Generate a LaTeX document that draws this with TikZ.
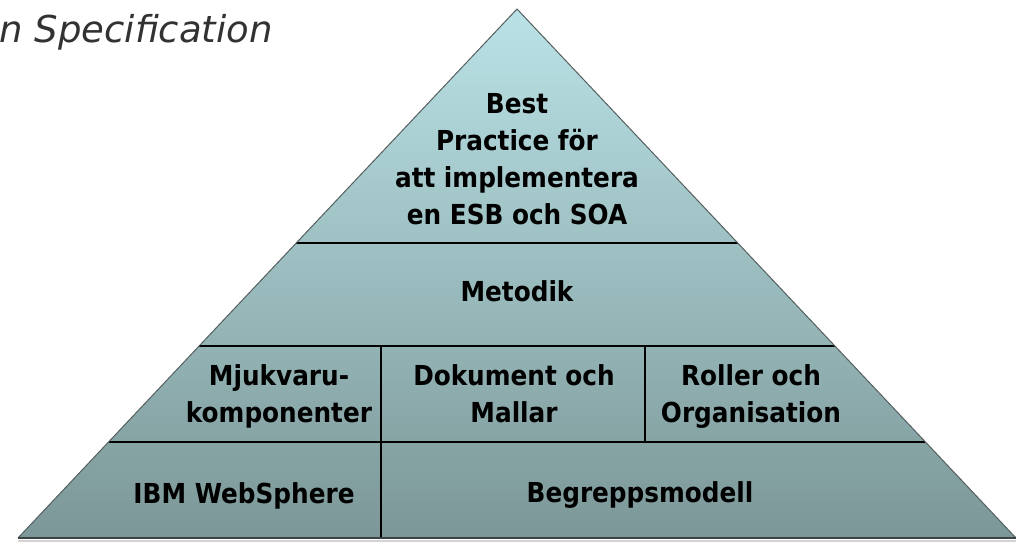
\documentclass[tikz,border=0pt]{standalone}
\usepackage{fontspec}
\setmainfont{DejaVu Sans}
\newfontfamily\pyrfont{DejaVu Sans Condensed}
\usetikzlibrary{calc}
\definecolor{topc}{RGB}{186,226,230}
\definecolor{botc}{RGB}{124,151,151}
\definecolor{edgec}{RGB}{85,95,95}
\definecolor{titlec}{RGB}{50,50,50}
\begin{document}
\begin{tikzpicture}[x=1pt,y=-1pt,
  lbl/.style={font=\pyrfont\bfseries\fontsize{27.5}{37}\selectfont, align=center, inner sep=0pt, anchor=base},
  div/.style={line width=1.2pt, black},
  edge/.style={edgec, line width=1pt}]
\useasboundingbox (0,0) rectangle (1016,545);
\fill[white] (0,0) rectangle (1016,545);
\coordinate (A) at (517,9);
\coordinate (L) at (18,538);
\coordinate (R) at (1016,538);
\draw[gray!35, line width=2.5pt] (18,541) -- (1016,541);
\shade[top color=topc, bottom color=botc] (A) -- (L) -- (R) -- cycle;
\draw[div] (296.3,243) -- (737.7,243);
\draw[div] (199.1,346) -- (834.9,346);
\draw[div] (108.6,442) -- (925.4,442);
\draw[div] (381,346) -- (381,538);
\draw[div] (645,346) -- (645,442);
\draw[edge] (L) -- (A) -- (R);
\draw[edgec!70!black, line width=1.5pt] (L) -- (R);
\node[lbl] (best) at (517,225) {Best\\Practice för\\att implementera\\en ESB och SOA};
\node[lbl] (metodik) at (517,301) {Metodik};
\node[lbl] (mjuk) at (279,422) {Mjukvaru-\\komponenter};
\node[lbl] (dok) at (514,422) {Dokument och\\Mallar};
\node[lbl] (roll) at (751,422) {Roller och\\Organisation};
\node[lbl] (ibm) at (244,503) {IBM WebSphere};
\node[lbl] (beg) at (640,502) {Begreppsmodell};
\node[font=\itshape\fontsize{37}{44}\selectfont, text=titlec, anchor=base east, inner sep=0pt] (title) at (273,43) {n Specification};
\end{tikzpicture}
\end{document}
